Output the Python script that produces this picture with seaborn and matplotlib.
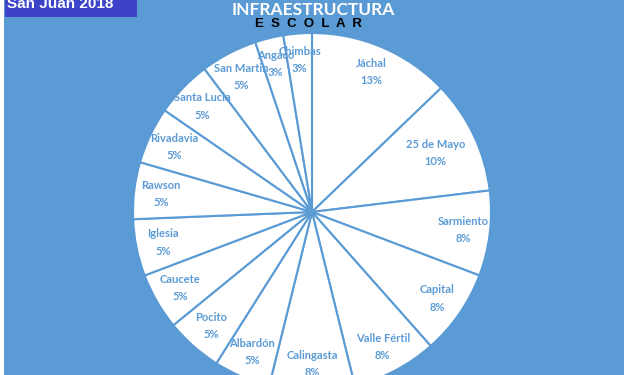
import matplotlib
matplotlib.use('Agg')
import matplotlib.pyplot as plt
from matplotlib.patches import Rectangle
import seaborn as sns

# establecimientos por departamento (San Juan 2018)
departamentos = ['Jáchal', '25 de Mayo', 'Sarmiento', 'Capital', 'Valle Fértil',
                 'Calingasta', 'Albardón', 'Pocito', 'Caucete', 'Iglesia',
                 'Rawson', 'Rivadavia', 'Santa Lucia', 'San Martin', 'Angaco', 'Chimbas']
cantidades = [5, 4, 3, 3, 3, 3, 2, 2, 2, 2, 2, 2, 2, 2, 1, 1]

titulo = 'INFRAESTRUCTURA'
subtitulo = 'E  S  C  O  L  A  R'
etiqueta = 'San Juan 2018'

azul = '#5b9bd5'
azul_oscuro = '#3c43c9'

sns.set_theme(style='white')
plt.rcParams['font.family'] = ['Lato', 'DejaVu Sans']

fig = plt.figure(figsize=(6.35, 3.75), dpi=100)
fig.patch.set_facecolor('white')
fig.patches.append(Rectangle((4 / 635, 0), 620 / 635, 1, transform=fig.transFigure,
                             facecolor=azul, edgecolor='none', zorder=0))
fig.patches.append(Rectangle((5 / 635, 1 - 17 / 375), 132 / 635, 17 / 375, transform=fig.transFigure,
                             facecolor=azul_oscuro, edgecolor='none', zorder=1))

# pie area
cx, cy, r = 312, 212, 179
ax = fig.add_axes([(cx - r) / 635, (375 - cy - r) / 375, 2 * r / 635, 2 * r / 375])
ax.set_facecolor('none')
ax.set_zorder(3)

total = sum(cantidades)
labels = [f'{d}\n{round(c / total * 100)}%' for d, c in zip(departamentos, cantidades)]

wedges, texts = ax.pie(cantidades, labels=labels, startangle=90, counterclock=False,
                       colors=['white'] * len(cantidades), labeldistance=0.85,
                       wedgeprops=dict(edgecolor=azul, linewidth=1.5),
                       textprops=dict(color=azul, fontsize=8, fontweight='bold'))
for t in texts:
    t.set_ha('center')
    t.set_va('center')
    t.set_linespacing(1.7)
# 25 de Mayo label sits a bit further in, like the original
x, y = texts[1].get_position()
texts[1].set_position((x * 0.9, y * 0.9))
ax.set_xlim(-1, 1)
ax.set_ylim(-1, 1)
ax.axis('off')

fig.text(313 / 635, 1 - 15 / 375, titulo, color='white', fontsize=12.5, fontweight='bold',
         ha='center', va='baseline', zorder=5)
fig.text(308 / 635, 1 - 27 / 375, subtitulo, color='black', fontsize=9.5, fontweight='bold',
         ha='center', va='baseline', family=['Liberation Sans', 'DejaVu Sans'], zorder=5)
fig.text(7 / 635, 1 - 8 / 375, etiqueta, color='white', fontsize=11, fontweight='bold',
         ha='left', va='baseline', family=['Liberation Sans', 'DejaVu Sans'], zorder=5)

fig.savefig('out.png', dpi=100, facecolor=fig.get_facecolor())
